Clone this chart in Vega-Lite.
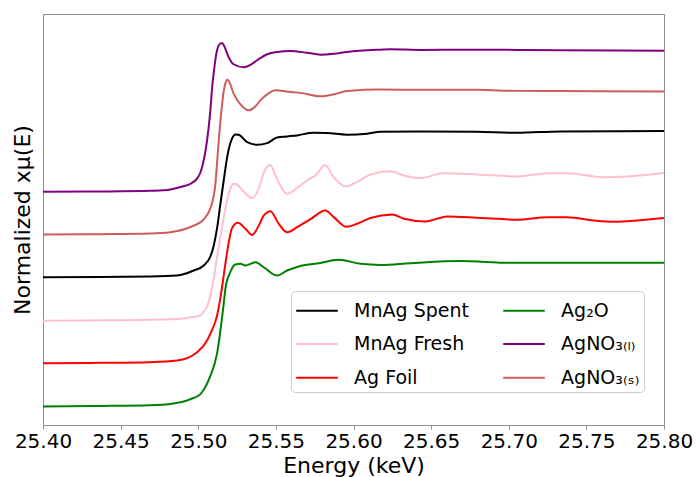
{
  "$schema": "https://vega.github.io/schema/vega-lite/v6.json",
  "width": 621,
  "height": 411,
  "autosize": {"type": "none"},
  "padding": {"left": 43, "top": 14, "right": 32, "bottom": 52},
  "background": "white",
  "config": {
    "font": "DejaVu Sans",
    "view": {"stroke": "#8c8c8c", "strokeWidth": 1}
  },
  "data": {
    "values": [
      {"s": "Ag₂O", "E": 25.40, "mu": 0.002},
      {"s": "Ag₂O", "E": 25.4369, "mu": 0.005},
      {"s": "Ag₂O", "E": 25.4692, "mu": 0.010},
      {"s": "Ag₂O", "E": 25.4820, "mu": 0.019},
      {"s": "Ag₂O", "E": 25.4949, "mu": 0.052},
      {"s": "Ag₂O", "E": 25.5014, "mu": 0.088},
      {"s": "Ag₂O", "E": 25.5035, "mu": 0.118},
      {"s": "Ag₂O", "E": 25.5078, "mu": 0.215},
      {"s": "Ag₂O", "E": 25.5121, "mu": 0.371},
      {"s": "Ag₂O", "E": 25.5164, "mu": 0.720},
      {"s": "Ag₂O", "E": 25.5175, "mu": 0.825},
      {"s": "Ag₂O", "E": 25.5207, "mu": 0.941},
      {"s": "Ag₂O", "E": 25.5239, "mu": 0.993},
      {"s": "Ag₂O", "E": 25.5272, "mu": 0.998},
      {"s": "Ag₂O", "E": 25.5304, "mu": 0.986},
      {"s": "Ag₂O", "E": 25.5368, "mu": 1.009},
      {"s": "Ag₂O", "E": 25.5422, "mu": 0.974},
      {"s": "Ag₂O", "E": 25.5508, "mu": 0.916},
      {"s": "Ag₂O", "E": 25.5573, "mu": 0.951},
      {"s": "Ag₂O", "E": 25.5658, "mu": 0.983},
      {"s": "Ag₂O", "E": 25.5766, "mu": 1.000},
      {"s": "Ag₂O", "E": 25.5905, "mu": 1.026},
      {"s": "Ag₂O", "E": 25.6045, "mu": 0.998},
      {"s": "Ag₂O", "E": 25.6174, "mu": 0.990},
      {"s": "Ag₂O", "E": 25.6367, "mu": 1.002},
      {"s": "Ag₂O", "E": 25.6690, "mu": 1.017},
      {"s": "Ag₂O", "E": 25.7012, "mu": 1.005},
      {"s": "Ag₂O", "E": 25.7334, "mu": 1.005},
      {"s": "Ag₂O", "E": 25.80, "mu": 1.005},

      {"s": "Ag Foil", "E": 25.40, "mu": 0.303},
      {"s": "Ag Foil", "E": 25.4369, "mu": 0.306},
      {"s": "Ag Foil", "E": 25.4692, "mu": 0.311},
      {"s": "Ag Foil", "E": 25.4864, "mu": 0.322},
      {"s": "Ag Foil", "E": 25.4993, "mu": 0.380},
      {"s": "Ag Foil", "E": 25.5057, "mu": 0.462},
      {"s": "Ag Foil", "E": 25.5078, "mu": 0.510},
      {"s": "Ag Foil", "E": 25.5121, "mu": 0.636},
      {"s": "Ag Foil", "E": 25.5143, "mu": 0.762},
      {"s": "Ag Foil", "E": 25.5164, "mu": 0.916},
      {"s": "Ag Foil", "E": 25.5186, "mu": 1.080},
      {"s": "Ag Foil", "E": 25.5218, "mu": 1.248},
      {"s": "Ag Foil", "E": 25.5255, "mu": 1.284},
      {"s": "Ag Foil", "E": 25.5304, "mu": 1.243},
      {"s": "Ag Foil", "E": 25.5347, "mu": 1.199},
      {"s": "Ag Foil", "E": 25.5390, "mu": 1.266},
      {"s": "Ag Foil", "E": 25.5422, "mu": 1.336},
      {"s": "Ag Foil", "E": 25.5465, "mu": 1.366},
      {"s": "Ag Foil", "E": 25.5518, "mu": 1.278},
      {"s": "Ag Foil", "E": 25.5573, "mu": 1.219},
      {"s": "Ag Foil", "E": 25.5637, "mu": 1.254},
      {"s": "Ag Foil", "E": 25.5723, "mu": 1.310},
      {"s": "Ag Foil", "E": 25.5819, "mu": 1.371},
      {"s": "Ag Foil", "E": 25.5873, "mu": 1.324},
      {"s": "Ag Foil", "E": 25.5955, "mu": 1.257},
      {"s": "Ag Foil", "E": 25.6024, "mu": 1.278},
      {"s": "Ag Foil", "E": 25.6109, "mu": 1.318},
      {"s": "Ag Foil", "E": 25.6249, "mu": 1.343},
      {"s": "Ag Foil", "E": 25.6324, "mu": 1.313},
      {"s": "Ag Foil", "E": 25.6464, "mu": 1.294},
      {"s": "Ag Foil", "E": 25.6604, "mu": 1.329},
      {"s": "Ag Foil", "E": 25.6797, "mu": 1.320},
      {"s": "Ag Foil", "E": 25.7055, "mu": 1.306},
      {"s": "Ag Foil", "E": 25.7248, "mu": 1.324},
      {"s": "Ag Foil", "E": 25.7377, "mu": 1.324},
      {"s": "Ag Foil", "E": 25.7549, "mu": 1.301},
      {"s": "Ag Foil", "E": 25.7678, "mu": 1.292},
      {"s": "Ag Foil", "E": 25.7828, "mu": 1.301},
      {"s": "Ag Foil", "E": 25.80, "mu": 1.318},

      {"s": "MnAg Fresh", "E": 25.40, "mu": 0.601},
      {"s": "MnAg Fresh", "E": 25.4369, "mu": 0.603},
      {"s": "MnAg Fresh", "E": 25.4692, "mu": 0.608},
      {"s": "MnAg Fresh", "E": 25.4885, "mu": 0.615},
      {"s": "MnAg Fresh", "E": 25.4949, "mu": 0.624},
      {"s": "MnAg Fresh", "E": 25.5014, "mu": 0.636},
      {"s": "MnAg Fresh", "E": 25.5035, "mu": 0.664},
      {"s": "MnAg Fresh", "E": 25.5057, "mu": 0.699},
      {"s": "MnAg Fresh", "E": 25.5078, "mu": 0.776},
      {"s": "MnAg Fresh", "E": 25.5100, "mu": 0.895},
      {"s": "MnAg Fresh", "E": 25.5121, "mu": 1.045},
      {"s": "MnAg Fresh", "E": 25.5143, "mu": 1.189},
      {"s": "MnAg Fresh", "E": 25.5164, "mu": 1.320},
      {"s": "MnAg Fresh", "E": 25.5186, "mu": 1.441},
      {"s": "MnAg Fresh", "E": 25.5207, "mu": 1.524},
      {"s": "MnAg Fresh", "E": 25.5228, "mu": 1.557},
      {"s": "MnAg Fresh", "E": 25.5250, "mu": 1.552},
      {"s": "MnAg Fresh", "E": 25.5293, "mu": 1.503},
      {"s": "MnAg Fresh", "E": 25.5347, "mu": 1.457},
      {"s": "MnAg Fresh", "E": 25.5400, "mu": 1.557},
      {"s": "MnAg Fresh", "E": 25.5422, "mu": 1.636},
      {"s": "MnAg Fresh", "E": 25.5465, "mu": 1.689},
      {"s": "MnAg Fresh", "E": 25.5497, "mu": 1.615},
      {"s": "MnAg Fresh", "E": 25.5518, "mu": 1.566},
      {"s": "MnAg Fresh", "E": 25.5573, "mu": 1.487},
      {"s": "MnAg Fresh", "E": 25.5637, "mu": 1.528},
      {"s": "MnAg Fresh", "E": 25.5701, "mu": 1.580},
      {"s": "MnAg Fresh", "E": 25.5766, "mu": 1.627},
      {"s": "MnAg Fresh", "E": 25.5815, "mu": 1.689},
      {"s": "MnAg Fresh", "E": 25.5873, "mu": 1.603},
      {"s": "MnAg Fresh", "E": 25.5950, "mu": 1.538},
      {"s": "MnAg Fresh", "E": 25.6024, "mu": 1.570},
      {"s": "MnAg Fresh", "E": 25.6109, "mu": 1.622},
      {"s": "MnAg Fresh", "E": 25.6238, "mu": 1.645},
      {"s": "MnAg Fresh", "E": 25.6324, "mu": 1.615},
      {"s": "MnAg Fresh", "E": 25.6432, "mu": 1.597},
      {"s": "MnAg Fresh", "E": 25.6582, "mu": 1.631},
      {"s": "MnAg Fresh", "E": 25.6797, "mu": 1.622},
      {"s": "MnAg Fresh", "E": 25.7055, "mu": 1.608},
      {"s": "MnAg Fresh", "E": 25.7248, "mu": 1.631},
      {"s": "MnAg Fresh", "E": 25.7377, "mu": 1.631},
      {"s": "MnAg Fresh", "E": 25.7613, "mu": 1.603},
      {"s": "MnAg Fresh", "E": 25.7764, "mu": 1.608},
      {"s": "MnAg Fresh", "E": 25.80, "mu": 1.633},

      {"s": "MnAg Spent", "E": 25.40, "mu": 0.904},
      {"s": "MnAg Spent", "E": 25.4369, "mu": 0.906},
      {"s": "MnAg Spent", "E": 25.4692, "mu": 0.909},
      {"s": "MnAg Spent", "E": 25.4864, "mu": 0.916},
      {"s": "MnAg Spent", "E": 25.4971, "mu": 0.951},
      {"s": "MnAg Spent", "E": 25.5035, "mu": 0.986},
      {"s": "MnAg Spent", "E": 25.5078, "mu": 1.049},
      {"s": "MnAg Spent", "E": 25.5100, "mu": 1.126},
      {"s": "MnAg Spent", "E": 25.5121, "mu": 1.245},
      {"s": "MnAg Spent", "E": 25.5143, "mu": 1.420},
      {"s": "MnAg Spent", "E": 25.5164, "mu": 1.580},
      {"s": "MnAg Spent", "E": 25.5186, "mu": 1.741},
      {"s": "MnAg Spent", "E": 25.5196, "mu": 1.797},
      {"s": "MnAg Spent", "E": 25.5218, "mu": 1.874},
      {"s": "MnAg Spent", "E": 25.5239, "mu": 1.902},
      {"s": "MnAg Spent", "E": 25.5261, "mu": 1.899},
      {"s": "MnAg Spent", "E": 25.5315, "mu": 1.848},
      {"s": "MnAg Spent", "E": 25.5379, "mu": 1.830},
      {"s": "MnAg Spent", "E": 25.5444, "mu": 1.841},
      {"s": "MnAg Spent", "E": 25.5508, "mu": 1.881},
      {"s": "MnAg Spent", "E": 25.5573, "mu": 1.888},
      {"s": "MnAg Spent", "E": 25.5637, "mu": 1.895},
      {"s": "MnAg Spent", "E": 25.5742, "mu": 1.914},
      {"s": "MnAg Spent", "E": 25.5830, "mu": 1.911},
      {"s": "MnAg Spent", "E": 25.5959, "mu": 1.900},
      {"s": "MnAg Spent", "E": 25.6088, "mu": 1.907},
      {"s": "MnAg Spent", "E": 25.6174, "mu": 1.920},
      {"s": "MnAg Spent", "E": 25.6432, "mu": 1.923},
      {"s": "MnAg Spent", "E": 25.6797, "mu": 1.920},
      {"s": "MnAg Spent", "E": 25.7055, "mu": 1.913},
      {"s": "MnAg Spent", "E": 25.7334, "mu": 1.923},
      {"s": "MnAg Spent", "E": 25.80, "mu": 1.925},

      {"s": "AgNO₃₍ₛ₎", "E": 25.40, "mu": 1.203},
      {"s": "AgNO₃₍ₛ₎", "E": 25.4369, "mu": 1.205},
      {"s": "AgNO₃₍ₛ₎", "E": 25.4692, "mu": 1.210},
      {"s": "AgNO₃₍ₛ₎", "E": 25.4820, "mu": 1.219},
      {"s": "AgNO₃₍ₛ₎", "E": 25.4949, "mu": 1.255},
      {"s": "AgNO₃₍ₛ₎", "E": 25.5035, "mu": 1.308},
      {"s": "AgNO₃₍ₛ₎", "E": 25.5078, "mu": 1.385},
      {"s": "AgNO₃₍ₛ₎", "E": 25.5100, "mu": 1.475},
      {"s": "AgNO₃₍ₛ₎", "E": 25.5111, "mu": 1.560},
      {"s": "AgNO₃₍ₛ₎", "E": 25.5121, "mu": 1.700},
      {"s": "AgNO₃₍ₛ₎", "E": 25.5132, "mu": 1.855},
      {"s": "AgNO₃₍ₛ₎", "E": 25.5143, "mu": 2.000},
      {"s": "AgNO₃₍ₛ₎", "E": 25.5154, "mu": 2.115},
      {"s": "AgNO₃₍ₛ₎", "E": 25.5164, "mu": 2.205},
      {"s": "AgNO₃₍ₛ₎", "E": 25.5175, "mu": 2.259},
      {"s": "AgNO₃₍ₛ₎", "E": 25.5186, "mu": 2.283},
      {"s": "AgNO₃₍ₛ₎", "E": 25.5196, "mu": 2.276},
      {"s": "AgNO₃₍ₛ₎", "E": 25.5228, "mu": 2.187},
      {"s": "AgNO₃₍ₛ₎", "E": 25.5272, "mu": 2.112},
      {"s": "AgNO₃₍ₛ₎", "E": 25.5325, "mu": 2.070},
      {"s": "AgNO₃₍ₛ₎", "E": 25.5368, "mu": 2.098},
      {"s": "AgNO₃₍ₛ₎", "E": 25.5400, "mu": 2.140},
      {"s": "AgNO₃₍ₛ₎", "E": 25.5444, "mu": 2.182},
      {"s": "AgNO₃₍ₛ₎", "E": 25.5497, "mu": 2.210},
      {"s": "AgNO₃₍ₛ₎", "E": 25.5594, "mu": 2.198},
      {"s": "AgNO₃₍ₛ₎", "E": 25.5658, "mu": 2.192},
      {"s": "AgNO₃₍ₛ₎", "E": 25.5787, "mu": 2.168},
      {"s": "AgNO₃₍ₛ₎", "E": 25.5873, "mu": 2.182},
      {"s": "AgNO₃₍ₛ₎", "E": 25.5959, "mu": 2.205},
      {"s": "AgNO₃₍ₛ₎", "E": 25.6174, "mu": 2.215},
      {"s": "AgNO₃₍ₛ₎", "E": 25.6432, "mu": 2.213},
      {"s": "AgNO₃₍ₛ₎", "E": 25.6797, "mu": 2.213},
      {"s": "AgNO₃₍ₛ₎", "E": 25.7055, "mu": 2.206},
      {"s": "AgNO₃₍ₛ₎", "E": 25.7334, "mu": 2.205},
      {"s": "AgNO₃₍ₛ₎", "E": 25.80, "mu": 2.201},

      {"s": "AgNO₃₍ₗ₎", "E": 25.40, "mu": 1.501},
      {"s": "AgNO₃₍ₗ₎", "E": 25.4369, "mu": 1.503},
      {"s": "AgNO₃₍ₗ₎", "E": 25.4692, "mu": 1.508},
      {"s": "AgNO₃₍ₗ₎", "E": 25.4775, "mu": 1.511},
      {"s": "AgNO₃₍ₗ₎", "E": 25.4904, "mu": 1.540},
      {"s": "AgNO₃₍ₗ₎", "E": 25.4949, "mu": 1.557},
      {"s": "AgNO₃₍ₗ₎", "E": 25.4993, "mu": 1.595},
      {"s": "AgNO₃₍ₗ₎", "E": 25.5014, "mu": 1.636},
      {"s": "AgNO₃₍ₗ₎", "E": 25.5035, "mu": 1.720},
      {"s": "AgNO₃₍ₗ₎", "E": 25.5057, "mu": 1.860},
      {"s": "AgNO₃₍ₗ₎", "E": 25.5078, "mu": 2.070},
      {"s": "AgNO₃₍ₗ₎", "E": 25.5089, "mu": 2.224},
      {"s": "AgNO₃₍ₗ₎", "E": 25.5100, "mu": 2.336},
      {"s": "AgNO₃₍ₗ₎", "E": 25.5121, "mu": 2.490},
      {"s": "AgNO₃₍ₗ₎", "E": 25.5136, "mu": 2.531},
      {"s": "AgNO₃₍ₗ₎", "E": 25.5154, "mu": 2.541},
      {"s": "AgNO₃₍ₗ₎", "E": 25.5168, "mu": 2.517},
      {"s": "AgNO₃₍ₗ₎", "E": 25.5196, "mu": 2.441},
      {"s": "AgNO₃₍ₗ₎", "E": 25.5228, "mu": 2.392},
      {"s": "AgNO₃₍ₗ₎", "E": 25.5293, "mu": 2.371},
      {"s": "AgNO₃₍ₗ₎", "E": 25.5336, "mu": 2.388},
      {"s": "AgNO₃₍ₗ₎", "E": 25.5379, "mu": 2.420},
      {"s": "AgNO₃₍ₗ₎", "E": 25.5444, "mu": 2.462},
      {"s": "AgNO₃₍ₗ₎", "E": 25.5508, "mu": 2.478},
      {"s": "AgNO₃₍ₗ₎", "E": 25.5594, "mu": 2.485},
      {"s": "AgNO₃₍ₗ₎", "E": 25.5701, "mu": 2.472},
      {"s": "AgNO₃₍ₗ₎", "E": 25.5787, "mu": 2.459},
      {"s": "AgNO₃₍ₗ₎", "E": 25.5873, "mu": 2.465},
      {"s": "AgNO₃₍ₗ₎", "E": 25.5959, "mu": 2.478},
      {"s": "AgNO₃₍ₗ₎", "E": 25.6174, "mu": 2.494},
      {"s": "AgNO₃₍ₗ₎", "E": 25.6238, "mu": 2.497},
      {"s": "AgNO₃₍ₗ₎", "E": 25.6432, "mu": 2.492},
      {"s": "AgNO₃₍ₗ₎", "E": 25.6797, "mu": 2.494},
      {"s": "AgNO₃₍ₗ₎", "E": 25.7055, "mu": 2.492},
      {"s": "AgNO₃₍ₗ₎", "E": 25.7334, "mu": 2.490},
      {"s": "AgNO₃₍ₗ₎", "E": 25.80, "mu": 2.487}
    ]
  },
  "mark": {"type": "line", "strokeWidth": 2, "interpolate": "monotone", "clip": true},
  "encoding": {
    "x": {
      "field": "E",
      "type": "quantitative",
      "scale": {"domain": [25.4, 25.8], "nice": false, "zero": false},
      "axis": {
        "values": [25.4, 25.45, 25.5, 25.55, 25.6, 25.65, 25.7, 25.75, 25.8],
        "format": ".2f",
        "title": "Energy (keV)",
        "titleFontSize": 22,
        "titleFontWeight": "normal",
        "titleColor": "#000000",
        "titlePadding": 4,
        "labelFontSize": 20,
        "labelColor": "#000000",
        "labelPadding": 2,
        "labelFlush": false,
        "labelOverlap": false,
        "tickSize": 4,
        "tickColor": "#8c8c8c",
        "domain": false,
        "grid": false
      }
    },
    "y": {
      "field": "mu",
      "type": "quantitative",
      "scale": {"domain": [-0.128, 2.743], "nice": false, "zero": false},
      "axis": {
        "title": "Normalized xμ(E)",
        "titleFontSize": 22,
        "titleFontWeight": "normal",
        "titleColor": "#000000",
        "titlePadding": 9,
        "labels": false,
        "ticks": false,
        "domain": false,
        "grid": false
      }
    },
    "color": {
      "field": "s",
      "type": "nominal",
      "scale": {
        "domain": ["MnAg Spent", "MnAg Fresh", "Ag Foil", "Ag₂O", "AgNO₃₍ₗ₎", "AgNO₃₍ₛ₎"],
        "range": ["#000000", "#ffc0cb", "#ff0000", "#008000", "#800080", "#cd5c5c"]
      },
      "legend": {
        "title": null,
        "orient": "none",
        "legendX": 248,
        "legendY": 277,
        "columns": 2,
        "symbolType": "M-1.434,0H1.434",
        "symbolSize": 841,
        "symbolStrokeWidth": 2,
        "symbolFillColor": "transparent",
        "symbolOffset": 6.5,
        "labelFontSize": 19,
        "labelColor": "#000000",
        "labelOffset": 21.6,
        "labelLimit": 300,
        "rowPadding": 7.6,
        "columnPadding": 30,
        "padding": 4,
        "strokeColor": "#cccccc",
        "fillColor": "#ffffff",
        "cornerRadius": 4
      }
    }
  }
}
